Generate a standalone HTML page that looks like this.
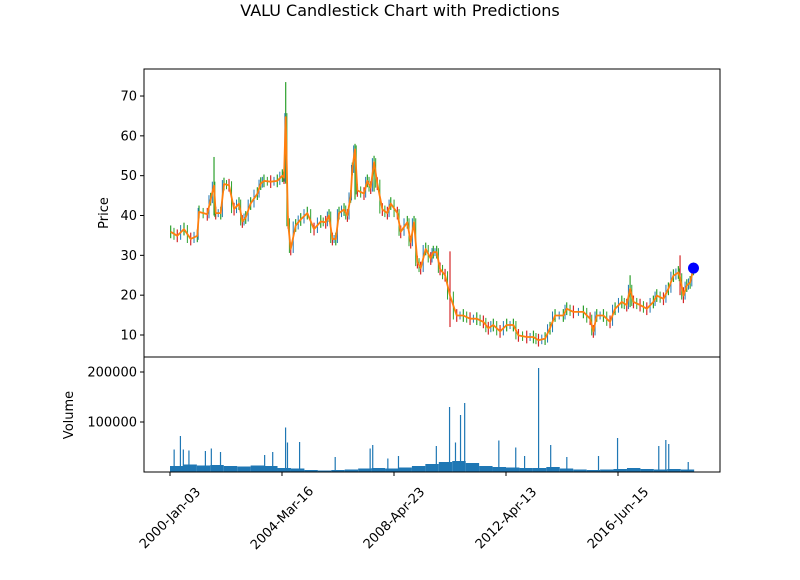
<!DOCTYPE html>
<html><head><meta charset="utf-8"><style>
body{margin:0;background:#fff;}
svg text{font-family:"DejaVu Sans","Liberation Sans",sans-serif;fill:#000;}
</style></head><body>
<svg id="chart" width="800" height="575" xmlns="http://www.w3.org/2000/svg">
<rect width="800" height="575" fill="#fff"/>
<text x="400" y="16" font-size="16" text-anchor="middle">VALU Candlestick Chart with Predictions</text>
<g id="price"></g><g id="vol"></g>
</svg>
<script>
const days=[6,65,125,185,244,259,333,363,393,408,453,482,527,572,616,646,676,720,780,810,839,899,958,1003,1018,1033,1054,1078,1122,1167,1226,1286,1346,1390,1420,1450,1480,1509,1554,1584,1613,1628,1652,1673,1732,1762,1792,1822,1851,1896,1941,1971,2030,2060,2119,2149,2179,2209,2238,2283,2328,2351,2381,2411,2456,2500,2560,2619,2679,2739,2798,2842,2887,2947,3006,3066,3111,3185,3245,3290,3349,3393,3438,3512,3542,3602,3691,3751,3780,3810,3870,3929,3974,4034,4078,4108,4138,4197,4257,4316,4346,4406,4450,4495,4539,4554,4584,4614,4644,4674];
const closes=[35.9,34.9,36.6,34.1,34.9,40.9,40.3,44.1,47.5,40.6,40.6,47.9,47.6,41.6,43,38.5,39.5,43,45.5,48,48.7,48.5,48.7,50,49.5,64.7,38.3,31.6,37.5,39,40.6,36.6,38.5,38.3,40,34.1,34.1,40.6,41.5,40,44.8,51.7,56.6,46.3,45.5,48.7,47,53.4,48,41.5,40.6,43,40.6,35.9,38.3,33.3,38.3,28.3,26.8,31.6,29.2,30.8,30.8,26.6,25,19.9,14.9,14.9,14.1,14.1,13.3,11.7,12.5,10.9,12.5,12.5,9.9,9.5,9.5,8.7,9.1,11.7,14.9,14.9,16.6,15.8,15.8,14.1,10.9,14.9,14.9,13.3,16.6,18.3,17.5,21.6,18.3,17.5,16.6,18.3,19.9,19.1,21.6,24.9,25.7,24.5,19.9,22.4,23.2,26.6];
const spikeDays=[393,1033,1652,1822,2500,4108,4554,4584];
const spikeHighs=[54.7,73.5,58,55,31,25,30,22];
const spikeLows=[40,48,44,46,12,17,20,18];
const predDay=[4674];const predVal=[26.8];
const volBase=[12000,15000,13000,14000,12000,11000,13000,12000,8000,7000,4000,3000,4000,5000,7000,8000,7000,9000,12000,16000,20000,22000,18000,12000,10000,9000,8000,8000,10000,7000,5000,4000,5000,6000,8000,6000,5000,6000,5000];
const volStep=120;
const spikeVolDays=[37,93,119,169,316,369,451,845,917,1032,1049,1157,1475,1787,1810,1945,2040,2378,2496,2549,2594,2631,2936,3087,3166,3291,3399,3543,3826,3996,4364,4427,4453,4627];
const spikeVols=[45000,72000,45000,43000,42000,47000,40000,34000,40000,89000,59000,60000,30000,47000,54000,27000,32000,52000,130000,59000,114000,138000,63000,49000,32000,208000,54000,30000,32000,68000,52000,64000,56000,20000];
const priceTicks=[10,20,30,40,50,60,70];
const volTicks=[100000,200000];
const dateTicks=[0,1000,2000,3000,4000];
const dateLabels=["2000-Jan-03","2004-Mar-16","2008-Apr-23","2012-Apr-13","2016-Jun-15"];

const NS="http://www.w3.org/2000/svg";
const L=144,R=720,PT=69,PB=357,VB=472;
const X=d=>170+d*0.112;
const YP=v=>335-(v-10)*3.983;
const YV=v=>VB-v*0.0005;
function mk(t,a,p){const e=document.createElementNS(NS,t);for(const k in a)e.setAttribute(k,a[k]);p.appendChild(e);return e;}
const gp=document.getElementById('price'),gv=document.getElementById('vol');

for(let i=0;i<days.length;i++){
  const si=spikeDays.indexOf(days[i]);
  const hi=si>=0?spikeHighs[si]:closes[i]+1.6, lo=si>=0?spikeLows[si]:closes[i]-1.6;
  const up=i==0||closes[i]>=closes[i-1];
  const w=mk('line',{x1:X(days[i]),x2:X(days[i]),y1:YP(hi),y2:YP(lo),stroke:up?'#2ca02c':'#d62728','stroke-width':1.2},gp);
  
  
  if(i>0){
    const mid=(days[i]+days[i-1])/2;
    const b=mk('line',{x1:X(mid),x2:X(mid),y1:YP(Math.max(closes[i],closes[i-1])+1),y2:YP(Math.min(closes[i],closes[i-1])-1),stroke:up?'#1f77b4':'#2ca02c','stroke-width':1},gp);
    
    
  }
}
let pts=days.map((d,i)=>X(d).toFixed(1)+','+YP(closes[i]).toFixed(1)).join(' ');
const pl=mk('polyline',{points:pts,fill:'none',stroke:'#ff7f0e','stroke-width':1.8,'stroke-linejoin':'round'},gp);


const dot=mk('circle',{cx:X(predDay[0]),cy:YP(predVal[0]),r:5.5,fill:'#0000ff'},gp);



for(let i=0;i<volBase.length;i++){
  const r=mk('rect',{x:X(i*volStep),y:YV(volBase[i]),width:volStep*0.112,height:VB-YV(volBase[i]),fill:'#1f77b4'},gv);
  
  
}
for(let i=0;i<spikeVolDays.length;i++){
  const r=mk('rect',{x:X(spikeVolDays[i])-0.6,y:YV(spikeVols[i]),width:1.2,height:VB-YV(spikeVols[i]),fill:'#1f77b4'},gv);
  
  
}

const f1=mk('rect',{x:L,y:PT,width:R-L,height:PB-PT,fill:'none',stroke:'#000','stroke-width':1},gp);


const f2=mk('rect',{x:L,y:PB,width:R-L,height:VB-PB,fill:'none',stroke:'#000','stroke-width':1},gv);



priceTicks.forEach(v=>{
  mk('line',{x1:L-4,x2:L,y1:YP(v),y2:YP(v),stroke:'#000'},gp);
  const t=mk('text',{x:L-7,y:YP(v)+4.5,'font-size':13,'text-anchor':'end'},gp);t.textContent=v;
  
  
});
volTicks.forEach(v=>{
  mk('line',{x1:L-4,x2:L,y1:YV(v),y2:YV(v),stroke:'#000'},gv);
  const t=mk('text',{x:L-7,y:YV(v)+4.5,'font-size':13,'text-anchor':'end'},gv);t.textContent=v;
  
  
});
dateTicks.forEach((d,i)=>{
  mk('line',{x1:X(d),x2:X(d),y1:VB,y2:VB+4,stroke:'#000'},gv);
  const tx=X(d)+3, ty=VB+49;
  const t=mk('text',{x:tx,y:ty,'font-size':13,'text-anchor':'middle',transform:`rotate(-45 ${tx} ${ty})`},gv);
  t.textContent=dateLabels[i];
  
  
});
const yl=mk('text',{x:108,y:213,'font-size':13,'text-anchor':'middle',transform:'rotate(-90 108 213)'},gp);yl.textContent='Price';


const vl=mk('text',{x:73,y:415,'font-size':13,'text-anchor':'middle',transform:'rotate(-90 73 415)'},gv);vl.textContent='Volume';


</script>
</body></html>
